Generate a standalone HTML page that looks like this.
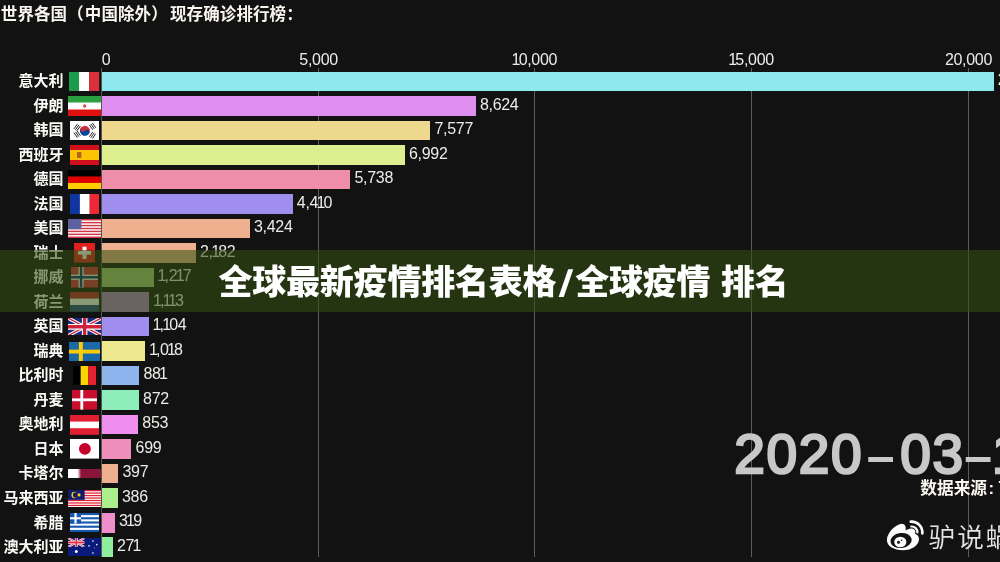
<!DOCTYPE html>
<html lang="zh-CN">
<head>
<meta charset="utf-8">
<title>全球最新疫情排名表格/全球疫情 排名</title>
<style>
html,body{margin:0;padding:0;background:#121212;}
body{width:1000px;height:562px;position:relative;overflow:hidden;font-family:"Liberation Sans","Noto Sans CJK SC",sans-serif;color:#f4efe2;}
#stage{position:absolute;left:0;top:0;width:1000px;height:562px;overflow:hidden;will-change:transform;}
.abs{position:absolute;white-space:nowrap;}
#title{left:0.8px;top:2.9px;font-size:16.5px;line-height:22px;font-weight:700;color:#f8f6ee;letter-spacing:0.1px;}
.grid{position:absolute;top:68.2px;width:1px;height:489.3px;background:#5c5c5c;}
.tick{position:absolute;top:49.5px;width:80px;margin-left:-40px;text-align:center;font-size:16px;letter-spacing:-0.3px;line-height:20px;color:#ebebe8;}
.bar{position:absolute;height:19.7px;}
.lab{position:absolute;left:0;width:63.5px;text-align:right;font-size:15px;line-height:20px;font-weight:700;color:#fbfaf6;white-space:nowrap;}
.val{position:absolute;font-size:16px;letter-spacing:-0.3px;line-height:20px;color:#ebebe8;white-space:nowrap;}
.flag{position:absolute;display:block;}
.n1{margin:0 -1.6px;}
#banner{position:absolute;left:0;top:250px;width:1000px;height:61.5px;background:rgba(52,80,18,0.58);}
#bt{position:absolute;left:218.4px;top:251.6px;height:61px;line-height:61px;font-size:34px;font-weight:900;color:#fff;white-space:nowrap;letter-spacing:-0.2px;}
#bt span{display:inline-block;text-align:center;letter-spacing:0;}
#date{left:734.2px;top:420.8px;font-size:55px;letter-spacing:1.7px;line-height:66px;color:#c8c8c8;-webkit-text-stroke:2.5px #c8c8c8;}
#date .d{font-weight:700;font-size:50px;letter-spacing:0;position:relative;top:0.4px;-webkit-text-stroke:0;}
#date span{display:inline-block;}
#src{left:920.3px;top:478.1px;font-size:16.7px;line-height:22px;font-weight:700;color:#faf8f0;}
#wb{left:928.6px;top:519.5px;font-size:26.6px;letter-spacing:2px;line-height:36px;font-weight:350;color:#e4e4e4;}
</style>
</head>
<body>
<div id="stage">
<div id="title" class="abs">世界各国<span style="margin-right:1px">（</span>中国除外<span style="margin-right:2.2px">）</span>现存确诊排行榜：</div>

<div class="grid" style="left:101.1px;background:#555"></div>
<div class="tick" style="left:101.8px;margin-left:0;text-align:left">0</div>
<div class="grid" style="left:317.8px"></div>
<div class="tick" style="left:318.6px">5,000</div>
<div class="grid" style="left:534.4px"></div>
<div class="tick" style="left:535.2px"><span class="n1">1</span>0,000</div>
<div class="grid" style="left:751.1px"></div>
<div class="tick" style="left:751.9px"><span class="n1">1</span>5,000</div>
<div class="grid" style="left:967.7px"></div>
<div class="tick" style="left:968.5px">20,000</div>
<div class="lab" style="top:71.1px">意大利</div>
<svg class="flag" style="left:69.35px;top:71.60px" width="30.20" height="19.60" viewBox="0 0 3 2" preserveAspectRatio="none"><rect width="1" height="2" fill="#1e9a4c"/><rect x="1" width="1" height="2" fill="#fff"/><rect x="2" width="1" height="2" fill="#d8313c"/></svg>
<div class="bar" style="left:102.0px;top:71.5px;width:891.6px;background:#8ee9ee"></div>
<div class="val" style="left:997.8px;top:69.9px">20,603</div>
<div class="lab" style="top:95.6px">伊朗</div>
<svg class="flag" style="left:67.80px;top:95.92px" width="33.30" height="20.00" viewBox="0 0 7 4" preserveAspectRatio="none"><rect width="7" height="4" fill="#fff"/><rect width="7" height="1.3" fill="#2aa040"/><rect y="2.7" width="7" height="1.3" fill="#e01010"/><circle cx="3.5" cy="2" r="0.35" fill="#e05050"/></svg>
<div class="bar" style="left:102.0px;top:96.0px;width:373.8px;background:#dd8eee"></div>
<div class="val" style="left:479.9px;top:94.5px">8,624</div>
<div class="lab" style="top:120.1px">韩国</div>
<svg class="flag" style="left:69.55px;top:120.64px" width="29.80" height="19.60" viewBox="0 0 30 20" preserveAspectRatio="none"><rect width="30" height="20" fill="#fff"/><path d="M10.8 7.2A5 5 0 0 1 19.2 12.8Z" fill="#cd2e3a"/><path d="M10.8 7.2A5 5 0 0 0 19.2 12.8Z" fill="#0047a0"/><circle cx="12.9" cy="8.6" r="2.5" fill="#cd2e3a"/><circle cx="17.1" cy="11.4" r="2.5" fill="#0047a0"/><g stroke="#222" stroke-width="1"><path d="M4 8l3.5-5M5.5 9l3.5-5M7 10l3.5-5M19.5 16l3.5-5M21 17l3.5-5M22.5 18l3.5-5M4 12l3.5 5M5.5 11l3.5 5M7 10l3.5 5M19.5 4l3.5 5M21 3l3.5 5M22.5 2l3.5 5" /></g></svg>
<div class="bar" style="left:102.0px;top:120.5px;width:328.3px;background:#eed88e"></div>
<div class="val" style="left:434.5px;top:119.0px">7,577</div>
<div class="lab" style="top:144.7px">西班牙</div>
<svg class="flag" style="left:69.55px;top:144.96px" width="29.80" height="20.00" viewBox="0 0 3 2" preserveAspectRatio="none"><rect width="3" height="2" fill="#d0101c"/><rect y="0.5" width="3" height="1" fill="#fcc400"/><rect x="0.7" y="0.7" width="0.45" height="0.6" fill="#b5651d"/></svg>
<div class="bar" style="left:102.0px;top:145.1px;width:302.9px;background:#dcee8e"></div>
<div class="val" style="left:409.0px;top:143.5px">6,992</div>
<div class="lab" style="top:169.2px">德国</div>
<svg class="flag" style="left:67.80px;top:169.78px" width="33.30" height="19.40" viewBox="0 0 5 3" preserveAspectRatio="none"><rect width="5" height="1" fill="#000"/><rect y="1" width="5" height="1" fill="#e00000"/><rect y="2" width="5" height="1" fill="#ffce00"/></svg>
<div class="bar" style="left:102.0px;top:169.6px;width:248.4px;background:#ee8eaa"></div>
<div class="val" style="left:354.5px;top:168.0px">5,738</div>
<div class="lab" style="top:193.7px">法国</div>
<svg class="flag" style="left:69.65px;top:194.00px" width="29.60" height="20.00" viewBox="0 0 3 2" preserveAspectRatio="none"><rect width="1" height="2" fill="#1035a0"/><rect x="1" width="1" height="2" fill="#fff"/><rect x="2" width="1" height="2" fill="#ee2839"/></svg>
<div class="bar" style="left:102.0px;top:194.1px;width:190.7px;background:#a08eee"></div>
<div class="val" style="left:296.8px;top:192.5px">4,4<span class="n1">1</span>0</div>
<div class="lab" style="top:218.2px">美国</div>
<svg class="flag" style="left:67.80px;top:219.02px" width="33.30" height="19.00" viewBox="0 0 190 100" preserveAspectRatio="none"><rect width="190" height="100" fill="#fff"/><rect y="0.00" width="190" height="7.69" fill="#d03545"/><rect y="15.38" width="190" height="7.69" fill="#d03545"/><rect y="30.76" width="190" height="7.69" fill="#d03545"/><rect y="46.14" width="190" height="7.69" fill="#d03545"/><rect y="61.52" width="190" height="7.69" fill="#d03545"/><rect y="76.90" width="190" height="7.69" fill="#d03545"/><rect y="92.28" width="190" height="7.69" fill="#d03545"/><rect width="76" height="53.8" fill="#5c62a0"/></svg>
<div class="bar" style="left:102.0px;top:218.6px;width:147.8px;background:#eeb08e"></div>
<div class="val" style="left:254.0px;top:217.1px">3,424</div>
<div class="lab" style="top:242.7px">瑞士</div>
<svg class="flag" style="left:73.95px;top:243.24px" width="21.00" height="19.60" viewBox="0 0 32 32" preserveAspectRatio="none"><rect width="32" height="32" fill="#e02020"/><rect x="13" y="6" width="6" height="20" fill="#fff"/><rect x="6" y="13" width="20" height="6" fill="#fff"/></svg>
<div class="bar" style="left:102.0px;top:243.1px;width:93.9px;background:#eeb08e"></div>
<div class="val" style="left:200.0px;top:241.6px">2,<span class="n1">1</span>82</div>
<div class="lab" style="top:267.3px">挪威</div>
<svg class="flag" style="left:70.60px;top:267.31px" width="27.70" height="20.50" viewBox="0 0 22 16" preserveAspectRatio="none"><rect width="22" height="16" fill="#d42a3c"/><rect x="6" width="4" height="16" fill="#fff"/><rect y="6" width="22" height="4" fill="#fff"/><rect x="7" width="2" height="16" fill="#0a3070"/><rect y="7" width="22" height="2" fill="#0a3070"/></svg>
<div class="bar" style="left:102.0px;top:267.7px;width:51.9px;background:#a6cc7a"></div>
<div class="val" style="left:159.1px;top:266.1px"><span class="n1">1</span>,2<span class="n1">1</span>7</div>
<div class="lab" style="top:291.8px">荷兰</div>
<svg class="flag" style="left:69.65px;top:292.28px" width="29.60" height="19.60" viewBox="0 0 3 3" preserveAspectRatio="none"><rect width="3" height="1" fill="#c0202c"/><rect y="1" width="3" height="1" fill="#fff"/><rect y="2" width="3" height="1" fill="#20468c"/></svg>
<div class="bar" style="left:102.0px;top:292.2px;width:47.4px;background:#b282d0"></div>
<div class="val" style="left:154.6px;top:290.6px"><span class="n1">1</span>,<span class="n1">1</span><span class="n1">1</span>3</div>
<div class="lab" style="top:316.3px">英国</div>
<svg class="flag" style="left:67.80px;top:317.75px" width="33.30" height="17.70" viewBox="0 0 60 30" preserveAspectRatio="none"><rect width="60" height="30" fill="#1a2a7a"/><path d="M0 0L60 30M60 0L0 30" stroke="#fff" stroke-width="6"/><path d="M0 0L60 30M60 0L0 30" stroke="#d0203a" stroke-width="2.4"/><path d="M30 0V30M0 15H60" stroke="#fff" stroke-width="10"/><path d="M30 0V30M0 15H60" stroke="#d0203a" stroke-width="6"/></svg>
<div class="bar" style="left:102.0px;top:316.7px;width:47.0px;background:#a08eee"></div>
<div class="val" style="left:154.2px;top:315.1px"><span class="n1">1</span>,<span class="n1">1</span>04</div>
<div class="lab" style="top:340.8px">瑞典</div>
<svg class="flag" style="left:68.65px;top:341.52px" width="31.60" height="19.20" viewBox="0 0 16 10" preserveAspectRatio="none"><rect width="16" height="10" fill="#1a6aa8"/><rect x="5" width="2" height="10" fill="#fecc00"/><rect y="4" width="16" height="2" fill="#fecc00"/></svg>
<div class="bar" style="left:102.0px;top:341.2px;width:43.3px;background:#eee88e"></div>
<div class="val" style="left:150.5px;top:339.7px"><span class="n1">1</span>,0<span class="n1">1</span>8</div>
<div class="lab" style="top:365.3px">比利时</div>
<svg class="flag" style="left:72.95px;top:365.84px" width="23.00" height="19.60" viewBox="0 0 3 2" preserveAspectRatio="none"><rect width="1" height="2" fill="#000"/><rect x="1" width="1" height="2" fill="#fad400"/><rect x="2" width="1" height="2" fill="#e82030"/></svg>
<div class="bar" style="left:102.0px;top:365.7px;width:37.3px;background:#8eb4ee"></div>
<div class="val" style="left:143.5px;top:364.2px">88<span class="n1">1</span></div>
<div class="lab" style="top:389.9px">丹麦</div>
<svg class="flag" style="left:71.50px;top:390.36px" width="25.90" height="19.60" viewBox="0 0 37 28" preserveAspectRatio="none"><rect width="37" height="28" fill="#c8102e"/><rect x="12" width="4" height="28" fill="#fff"/><rect y="12" width="37" height="4" fill="#fff"/></svg>
<div class="bar" style="left:102.0px;top:390.3px;width:37.0px;background:#8eeebb"></div>
<div class="val" style="left:143.1px;top:388.7px">872</div>
<div class="lab" style="top:414.4px">奥地利</div>
<svg class="flag" style="left:69.55px;top:414.78px" width="29.80" height="19.80" viewBox="0 0 3 3" preserveAspectRatio="none"><rect width="3" height="3" fill="#e02030"/><rect y="1" width="3" height="1" fill="#fff"/></svg>
<div class="bar" style="left:102.0px;top:414.8px;width:36.1px;background:#ee8eee"></div>
<div class="val" style="left:142.3px;top:413.2px">853</div>
<div class="lab" style="top:438.9px">日本</div>
<svg class="flag" style="left:69.55px;top:439.40px" width="29.80" height="19.60" viewBox="0 0 30 20" preserveAspectRatio="none"><rect width="30" height="20" fill="#fff"/><circle cx="15" cy="10" r="6" fill="#c8002c"/></svg>
<div class="bar" style="left:102.0px;top:439.3px;width:29.4px;background:#ee8ebb"></div>
<div class="val" style="left:135.6px;top:437.7px">699</div>
<div class="lab" style="top:463.4px">卡塔尔</div>
<svg class="flag" style="left:67.80px;top:469.12px" width="33.30" height="9.20" viewBox="0 0 28 11" preserveAspectRatio="none"><rect width="28" height="11" fill="#8a1538"/><path d="M0 0H8L11 0.61L8 1.22L11 1.83L8 2.44L11 3.05L8 3.66L11 4.27L8 4.88L11 5.5L8 6.11L11 6.72L8 7.33L11 7.94L8 8.55L11 9.16L8 9.77L11 10.38L8 11H0Z" fill="#fff"/></svg>
<div class="bar" style="left:102.0px;top:463.8px;width:16.3px;background:#eeb08e"></div>
<div class="val" style="left:122.5px;top:462.3px">397</div>
<div class="lab" style="top:487.9px">马来西亚</div>
<svg class="flag" style="left:67.80px;top:489.59px" width="33.30" height="17.30" viewBox="0 0 28 14" preserveAspectRatio="none"><rect width="28" height="14" fill="#fff"/><rect y="0" width="28" height="1" fill="#e02030"/><rect y="2" width="28" height="1" fill="#e02030"/><rect y="4" width="28" height="1" fill="#e02030"/><rect y="6" width="28" height="1" fill="#e02030"/><rect y="8" width="28" height="1" fill="#e02030"/><rect y="10" width="28" height="1" fill="#e02030"/><rect y="12" width="28" height="1" fill="#e02030"/><rect width="14" height="8" fill="#101a70"/><circle cx="5.5" cy="4" r="2.6" fill="#ffcc00"/><circle cx="6.4" cy="4" r="2.2" fill="#101a70"/><circle cx="9.3" cy="4" r="1.3" fill="#ffcc00"/></svg>
<div class="bar" style="left:102.0px;top:488.3px;width:15.8px;background:#aaee8e"></div>
<div class="val" style="left:122.0px;top:486.8px">386</div>
<div class="lab" style="top:512.5px">希腊</div>
<svg class="flag" style="left:69.55px;top:513.26px" width="29.80" height="19.00" viewBox="0 0 27 18" preserveAspectRatio="none"><rect width="27" height="18" fill="#1558b0"/><rect y="2" width="27" height="2" fill="#fff"/><rect y="6" width="27" height="2" fill="#fff"/><rect y="10" width="27" height="2" fill="#fff"/><rect y="14" width="27" height="2" fill="#fff"/><rect width="10" height="10" fill="#1558b0"/><rect x="4" width="2" height="10" fill="#fff"/><rect y="4" width="10" height="2" fill="#fff"/></svg>
<div class="bar" style="left:102.0px;top:512.9px;width:12.9px;background:#ee8ecc"></div>
<div class="val" style="left:119.1px;top:511.3px">3<span class="n1">1</span>9</div>
<div class="lab" style="top:537.0px">澳大利亚</div>
<svg class="flag" style="left:67.85px;top:538.28px" width="33.20" height="18.00" viewBox="0 0 60 30" preserveAspectRatio="none"><rect width="60" height="30" fill="#0a1a7a"/><g><path d="M0 0L30 15M30 0L0 15" stroke="#fff" stroke-width="3.4"/><path d="M0 0L30 15M30 0L0 15" stroke="#e0304a" stroke-width="1.4"/><path d="M15 0V15M0 7.5H30" stroke="#fff" stroke-width="5"/><path d="M15 0V15M0 7.5H30" stroke="#e0304a" stroke-width="3"/></g><rect x="30" width="30" height="15" fill="#0a1a7a"/><rect y="15" width="60" height="15" fill="#0a1a7a"/><circle cx="15" cy="22.5" r="2.6" fill="#fff"/><circle cx="45" cy="5" r="1.4" fill="#fff"/><circle cx="45" cy="25" r="1.4" fill="#fff"/><circle cx="38" cy="13" r="1.4" fill="#fff"/><circle cx="52" cy="11" r="1.4" fill="#fff"/><circle cx="48" cy="16.5" r="0.8" fill="#fff"/></svg>
<div class="bar" style="left:102.0px;top:537.4px;width:10.8px;background:#8eee9e"></div>
<div class="val" style="left:117.0px;top:535.8px">27<span class="n1">1</span></div>
<div id="date" class="abs"><span>2020</span><span class="d" style="margin:0 5.5px 0 3.5px">–</span><span>03</span><span class="d" style="margin:0 0 0 -0.5px">–</span><span>15</span></div>
<div id="src" class="abs">数据来源<span style="margin-left:1.5px">:</span><span style="margin-left:4px">丁香园</span></div>
<svg class="abs" style="left:882px;top:514px" width="48" height="42" viewBox="0 0 48 42">
<path d="M19.4 9.7C13 10.5 4.9 19 4.9 26C4.9 32 12 36.3 20.9 36.3C30 36.3 37 31 37 25C37 22 35 20.5 33 19.8C34 17.5 33 15 30 14.6C27.5 14.3 25 15.5 23.5 16.5C24.5 13 23 9.5 19.400 9.700Z" fill="#fbfbfb"/>
<ellipse cx="19.100" cy="26.500" rx="10.700" ry="7.500" fill="#121212" transform="rotate(-8 19.100 26.500)"/>
<ellipse cx="18.300" cy="28" rx="6.100" ry="5.200" fill="#fbfbfb"/>
<circle cx="16.500" cy="28.200" r="1.500" fill="#121212"/>
<circle cx="19.600" cy="26.200" r="0.800" fill="#121212"/>
<path d="M29.300 12.500A5.800 5.800 0 0 1 35.400 18.500" fill="none" stroke="#fbfbfb" stroke-width="2.200" stroke-linecap="round"/>
<path d="M28.800 7.700A10.700 10.700 0 0 1 40.300 19.400" fill="none" stroke="#fbfbfb" stroke-width="2.700" stroke-linecap="round"/>
</svg>
<div id="wb" class="abs">驴说蜗牛</div>
<div id="banner"></div><div id="bt">全球最新疫情排名表格<span style="width:18.8px;font-family:Noto Sans CJK SC,sans-serif;font-size:28px;transform:scaleX(1.55);position:relative;top:-2px;left:1px">/</span>全球疫情<span style="width:10.5px"> </span>排名</div>
</div>
</body></html>
